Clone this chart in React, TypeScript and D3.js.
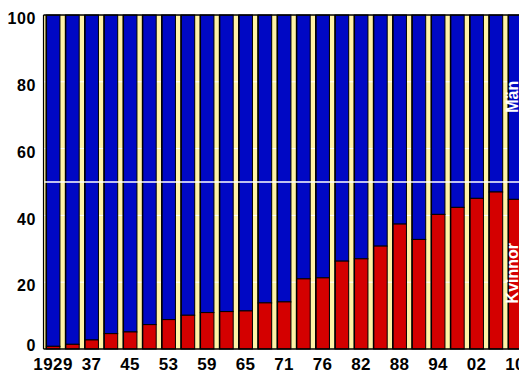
import React from "react";
import * as d3 from "d3";

const years = ["1929","33","37","41","45","49","53","57","59","61","65","69","71","74","76","79","82","85","88","91","94","98","02","06","10"];
const women = [0.8,1.4,2.7,4.6,5.1,7.3,8.8,10.1,10.9,11.2,11.4,13.8,14.1,21.0,21.3,26.3,27.0,30.8,37.4,32.8,40.3,42.4,45.1,47.0,44.8];
const yTicks = [0,20,40,60,80,100];
const gridLines = [20,40,60,80];

const W = 519, H = 373;
const left = 43.5, top = 15, bottom = 349;

export default function App() {
  const x = d3.scaleBand<string>().domain(years).range([left, left + years.length * 19.25]).paddingInner(0.24).paddingOuter(0.12);
  const y = d3.scaleLinear().domain([0, 100]).range([bottom, top]);
  const font = "'Liberation Sans', Arial, Helvetica, sans-serif";
  const bw = x.bandwidth();
  const lastX = (x(years[years.length - 1]) as number) + bw / 2;
  return (
    <svg width={W} height={H} style={{ position: "absolute", left: 0, top: 0, display: "block" }}>
      <rect x={left} y={top} width={W - left} height={bottom - top} fill="#FFF2A6" />
      {gridLines.map(g => (
        <line key={g} x1={left} x2={W} y1={y(g)} y2={y(g)} stroke="#ffffff" strokeWidth={1} />
      ))}
      {years.map((yr, i) => {
        const bx = x(yr) as number;
        return (
          <g key={yr}>
            <rect x={bx + 0.5} y={y(100)} width={bw - 1} height={y(women[i]) - y(100)} fill="#0008C4" stroke="#000" strokeWidth={1} />
            <rect x={bx + 0.5} y={y(women[i])} width={bw - 1} height={y(0) - y(women[i])} fill="#D40000" stroke="#000" strokeWidth={1} />
            <line x1={bx + 0.5} x2={bx + 0.5} y1={y(100)} y2={y(0)} stroke="#000" strokeWidth={1.5} />
          </g>
        );
      })}
      <line x1={left} x2={W} y1={y(50)} y2={y(50)} stroke="#ffffff" strokeWidth={1.5} />
      <line x1={left} x2={W} y1={top} y2={top} stroke="#000" strokeWidth={1.5} />
      <line x1={left} x2={W} y1={bottom} y2={bottom} stroke="#000" strokeWidth={1.5} />
      <line x1={left} x2={left} y1={top} y2={bottom} stroke="#000" strokeWidth={1.2} />
      {yTicks.map(t => (
        <text key={t} x={36} y={(t === 0 ? y(t) - 3.5 : y(t) + 3.5)} dy="0.36em" textAnchor="end"
          fontFamily={font} fontWeight="bold" fontSize={16} letterSpacing={0.6} fill="#000">{t}</text>
      ))}
      {years.map((yr, i) => i % 2 === 0 ? (
        <text key={yr} x={(x(yr) as number) + bw / 2} y={370} textAnchor="middle"
          fontFamily={font} fontWeight="bold" fontSize={17} letterSpacing={0.5} fill="#000">{yr}</text>
      ) : null)}
      <text transform={`translate(${lastX + 3},${y(75.5)}) rotate(-90)`} textAnchor="middle"
        fontFamily={font} fontWeight="bold" fontSize={16} fill="#fff">Män</text>
      <text transform={`translate(${lastX + 3},${y(22.7)}) rotate(-90)`} textAnchor="middle"
        fontFamily={font} fontWeight="bold" fontSize={16} fill="#fff">Kvinnor</text>
    </svg>
  );
}
